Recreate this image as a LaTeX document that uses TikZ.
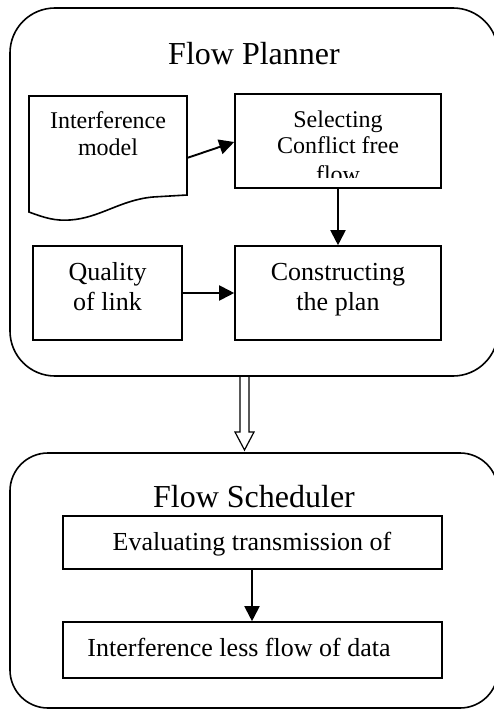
\documentclass[tikz,border=0pt]{standalone}
\usepackage{fontspec}
\setmainfont{Liberation Serif}
\usetikzlibrary{arrows.meta}
\begin{document}
\begin{tikzpicture}[x=1pt,y=-1pt,
  group/.style={draw,line width=1.6pt,rounded corners=#1},
  stepbox/.style={draw,line width=1.6pt,inner sep=0pt,minimum width=#1},
  lbl/.style={anchor=base,inner sep=0pt,font=\fontsize{24}{26}\selectfont},
  lblb/.style={anchor=base,inner sep=0pt,font=\fontsize{26}{28}\selectfont},
  ttl/.style={anchor=base,inner sep=0pt,font=\fontsize{32}{34}\selectfont},
  flowarrow/.style={line width=1.9pt,-{Triangle[length=15pt,width=15pt]}}]
\useasboundingbox (0,0) rectangle (494,709);
\clip (0,0) rectangle (494,709);

% outer groups
\draw[group=45] (10,8) rectangle (498,376);
\draw[group=38] (10,453) rectangle (498,708);
\node[ttl] (t1) at (254,65) {Flow Planner};
\node[ttl] (t2) at (254,507) {Flow Scheduler};

% document-shaped input
\coordinate (imr) at (187,158);
\draw[line width=1.6pt] (29,96) -- (187,96) -- (187,195) -- (153,197)
  .. controls (120,200) and (100,218) .. (70,220)
  .. controls (55,221) and (45,218) .. (29,212) -- cycle;
\node[lbl] (im1) at (108,128) {Interference};
\node[lbl] (im2) at (108,155) {model};

% planner boxes
\node[stepbox=206,minimum height=94] (sel) at (338,141) {};
\node[lbl] (sel1) at (338,127) {Selecting};
\node[lbl] (sel2) at (338,153) {Conflict free};
\begin{scope}
  \clip (235,94) rectangle (441,177);
  \node[lbl] (sel3) at (338,182) {flow};
\end{scope}

\node[stepbox=149,minimum height=94] (ql) at (107.5,293) {};
\node[lblb] (ql1) at (107.5,280) {Quality};
\node[lblb] (ql2) at (107.5,310) {of link};

\node[stepbox=206,minimum height=94] (cp) at (338,293) {};
\node[lblb] (cp1) at (338,280) {Constructing};
\node[lblb] (cp2) at (338,310) {the plan};

\draw[flowarrow] (imr) -- (sel.west |- 0,142);
\draw[flowarrow] (sel.south) -- (cp.north);
\draw[flowarrow] (ql.east) -- (cp.west);

% hollow arrow between the groups
\coordinate (hs) at (244.5,377);
\coordinate (ht) at (244.5,450);
\draw[line width=1.2pt,fill=white] ([xshift=-4.5pt]hs) -- ([xshift=-4.5pt,yshift=18pt]ht)
  -- ([xshift=-9.5pt,yshift=18pt]ht) -- (ht) -- ([xshift=9.5pt,yshift=18pt]ht)
  -- ([xshift=4.5pt,yshift=18pt]ht) -- ([xshift=4.5pt]hs);

% scheduler boxes
\node[stepbox=379,minimum height=53] (ev) at (252.5,542.5) {};
\node[lblb] (ev1) at (252,550) {Evaluating transmission of};
\node[stepbox=379,minimum height=56] (il) at (252.5,650) {};
\node[lblb] (il1) at (239,656) {Interference less flow of data};
\draw[flowarrow] (ev.south -| 252,0) -- (il.north -| 252,0);
\end{tikzpicture}
\end{document}
